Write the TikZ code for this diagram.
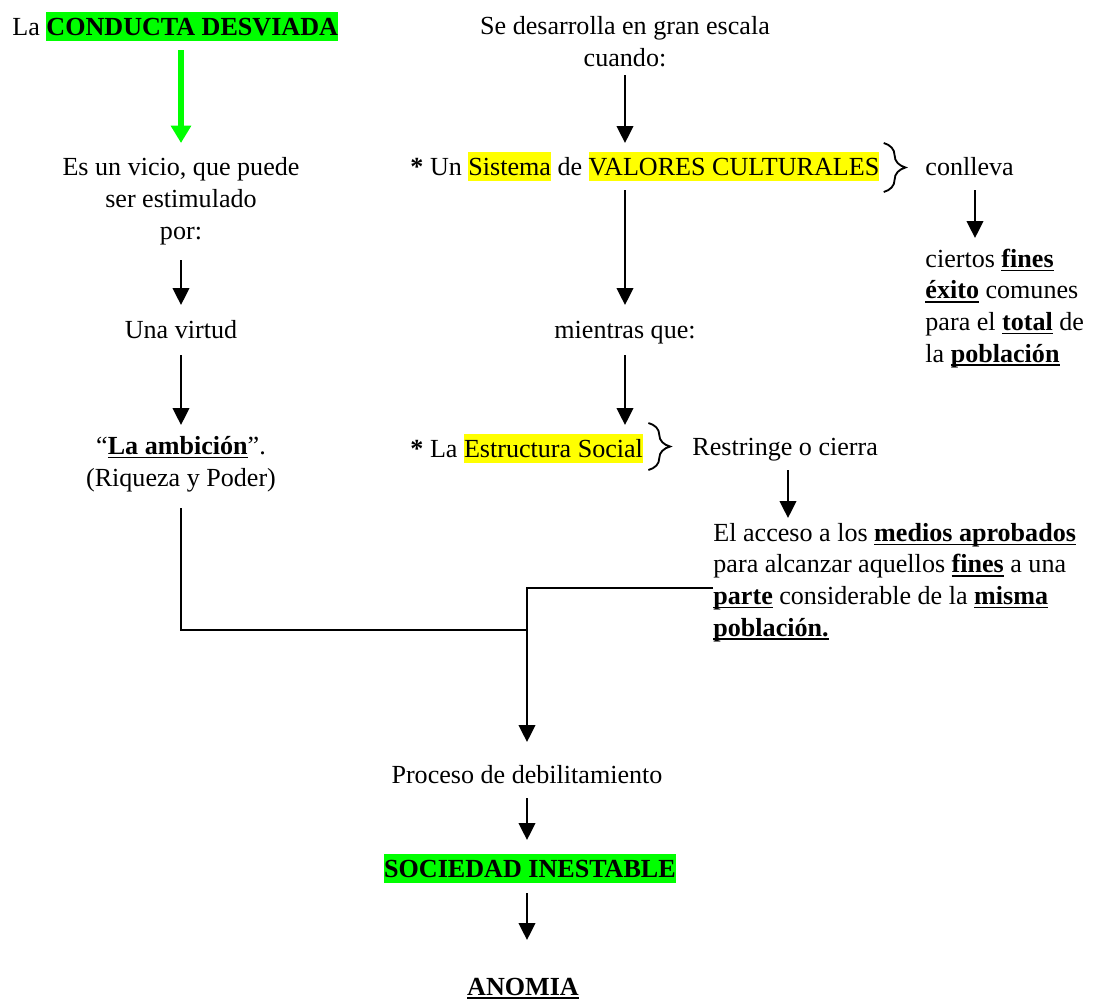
\documentclass[tikz,border=0pt]{standalone}
\usepackage{fontspec}
\setmainfont{Liberation Serif}
\usetikzlibrary{arrows.meta, decorations.pathreplacing, calc}
\definecolor{hlgreen}{HTML}{00FF00}
\definecolor{hlyellow}{HTML}{FFFF00}
\newcommand{\hlbox}[2]{{\setlength{\fboxsep}{0pt}\colorbox{#1}{\rule[-2.7pt]{0pt}{13.5pt}#2}}}
\newcommand{\ulb}[1]{{\setbox0\hbox{\textbf{#1}}\rlap{\rule[-1.8pt]{\wd0}{0.85pt}}\box0}}
\tikzset{
  txt/.style={inner sep=0pt,font=\fontsize{12}{14.5}\selectfont,anchor=base},
  txtl/.style={txt,anchor=base west,align=left},
  block/.style={txt,align=center},
  link/.style={line width=0.92pt},
  arr/.style={link,-{Triangle[length=7.8pt,width=7.6pt]}},
  greenarr/.style={draw=hlgreen,fill=hlgreen,line width=2.7pt,-{Triangle[length=8pt,width=9pt]}},
  curly/.style={decorate,decoration={brace,amplitude=10pt},line width=0.85pt},
}
\begin{document}
\begin{tikzpicture}[x=0.46pt,y=-0.46pt]
  \useasboundingbox (0,0) rectangle (1094,1001);
  % left column
  \node[txt,anchor=base west] (title) at (12,35) {La \hlbox{hlgreen}{\textbf{CONDUCTA DESVIADA}}};
  \node[block] (vicio) at (181,239) {Es un vicio, que puede\\ser estimulado\\por:};
  \node[txt] (virtud) at (181,338) {Una virtud};
  \node[block] (ambicion) at (181,486) {``\ulb{La ambición}''.\\(Riqueza y Poder)};
  % middle column
  \node[block] (desarrolla) at (625,66) {Se desarrolla en gran escala\\cuando:};
  \node[txt,anchor=base west] (sistema) at (410,175)
    {\textbf{*} Un \hlbox{hlyellow}{Sistema} de \hlbox{hlyellow}{VALORES CULTURALES}};
  \node[txt] (mientras) at (625,338) {mientras que:};
  \node[txt,anchor=base west] (estructura) at (410,457) {\textbf{*} La \hlbox{hlyellow}{Estructura Social}};
  % right column
  \node[txt,anchor=base west] (conlleva) at (925,175) {conlleva};
  \node[txtl] (fines) at (925,362)
    {ciertos \ulb{fines}\\\ulb{éxito} comunes\\para el \ulb{total} de\\la \ulb{población}};
  \node[txt,anchor=base west] (restringe) at (692,455) {Restringe o cierra};
  \node[txtl] (acceso) at (713,636)
    {El acceso a los \ulb{medios aprobados}\\para alcanzar aquellos \ulb{fines} a una\\\ulb{parte} considerable de la \ulb{misma}\\\ulb{población.}};
  % bottom
  \node[txt] (proceso) at (527,783) {Proceso de debilitamiento};
  \node[txt] (sociedad) at (530,877) {\hlbox{hlgreen}{\textbf{SOCIEDAD INESTABLE}}};
  \node[txt] (anomia) at (523,995) {\ulb{ANOMIA}};
  \coordinate (meet) at (527,630);
  \coordinate (bend) at (527,588);

  \draw[greenarr] ($(title.base west)+(169,15)$) -- ($(vicio.base)+(0,-96)$);
  \draw[arr] ($(vicio.base)+(0,21)$) -- ($(virtud.base)+(0,-33)$);
  \draw[arr] ($(virtud.base)+(0,17)$) -- ($(ambicion.base)+(0,-61)$);
  \draw[arr] ($(desarrolla.base)+(0,9)$) -- ($(desarrolla.base |- sistema.base)+(0,-32)$);
  \draw[arr] ($(mientras.base |- sistema.base)+(0,15)$) -- ($(mientras.base)+(0,-33)$);
  \draw[arr] ($(mientras.base)+(0,17)$) -- ($(mientras.base |- estructura.base)+(0,-32)$);
  \draw[arr] ($(conlleva.base west)+(50,15)$) -- ($(conlleva.base west |- fines.base)+(50,-124)$);
  \draw[arr] ($(restringe.base west)+(96,15)$) -- ($(restringe.base west |- acceso.base)+(96,-118)$);
  \draw[curly] ($(sistema.base east)+(4,-32)$) -- ($(sistema.base east)+(4,17)$);
  \draw[curly] ($(estructura.base east)+(5,-34)$) -- ($(estructura.base east)+(5,13)$);
  % merge of both branches
  \draw[link] ($(ambicion.base)+(0,22)$) |- (meet);
  \draw[arr] ($(acceso.base west)+(0,-48)$) -- (bend) -- ($(proceso.base)+(0,-41)$);
  \draw[arr] ($(proceso.base)+(0,15)$) -- ($(proceso.base |- sociedad.base)+(0,-37)$);
  \draw[arr] ($(proceso.base |- sociedad.base)+(0,16)$) -- ($(proceso.base |- anomia.base)+(0,-55)$);
\end{tikzpicture}
\end{document}
